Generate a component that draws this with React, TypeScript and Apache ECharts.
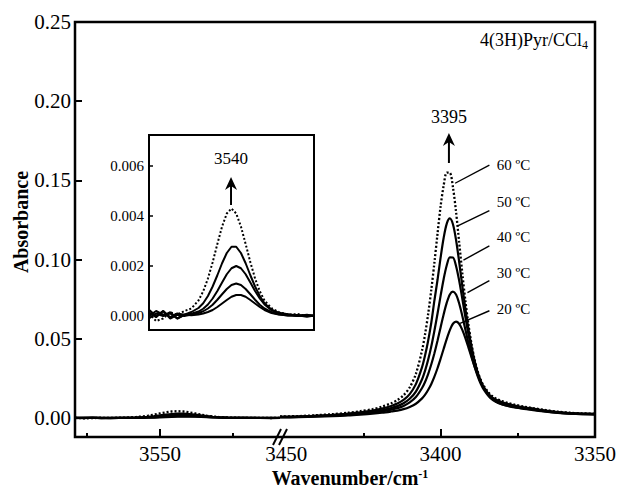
import React, { useEffect, useRef } from "react";
import * as echarts from "echarts";

// ---------------- data ----------------
// left segment of the broken axis (also shown enlarged in the inset)
const xLeft = [3579, 3576, 3573, 3570, 3567, 3564, 3561, 3558, 3556, 3554, 3552, 3550, 3548, 3546, 3544, 3542, 3540, 3538, 3536, 3534, 3532, 3530, 3527, 3524, 3520, 3516, 3512, 3509];
const a60L = [0.0001, -0.0002, -0.0001, 0.00015, 0.00005, 0.0002, 0.0003, 0.00062, 0.00099, 0.0015, 0.00215, 0.00288, 0.00358, 0.0041, 0.0043, 0.0041, 0.00358, 0.00288, 0.00215, 0.0015, 0.00099, 0.00062, 0.00031, 0.00016, 0.00005, 0.00008, 0.0, 0.00004];
const a50L = [0.00025, 0.0, 0.0002, -0.00005, 0.0001, 0.00005, 0.00016, 0.00032, 0.00051, 0.0008, 0.00118, 0.00163, 0.00211, 0.00252, 0.00277, 0.00277, 0.00252, 0.00211, 0.00163, 0.00118, 0.0008, 0.00051, 0.00025, 0.00013, 0.00007, 0.0, 0.00005, 0.0];
const a40L = [0.0, 0.0002, 0.00005, 0.0001, -0.0001, 0.00005, 0.00009, 0.00018, 0.00029, 0.00046, 0.0007, 0.001, 0.00134, 0.00167, 0.00191, 0.002, 0.00191, 0.00167, 0.00134, 0.001, 0.0007, 0.00046, 0.00023, 0.00011, 0.00006, 0.00003, -0.00003, 0.00002];
const a30L = [0.00015, -0.00005, 0.0002, -0.0001, 0.00005, 0.0, 0.00006, 0.00012, 0.00019, 0.0003, 0.00045, 0.00065, 0.00087, 0.00108, 0.00124, 0.0013, 0.00124, 0.00108, 0.00087, 0.00065, 0.00045, 0.0003, 0.00015, 0.00007, 0.00002, 0.00004, 0.0, 0.00003];
const a20L = [-0.0001, 0.0001, 0.0, 0.00015, -0.0001, 0.00005, 0.00003, 0.00006, 0.0001, 0.00016, 0.00024, 0.00036, 0.0005, 0.00064, 0.00077, 0.00084, 0.00084, 0.00077, 0.00064, 0.0005, 0.00036, 0.00024, 0.00012, 0.00006, 0.00002, 0.0, 0.00003, 0.0];

// right segment of the broken axis (main 3395 band)
const xRight = [3452, 3446, 3440, 3435, 3430, 3426, 3422, 3419, 3416, 3414, 3412, 3410, 3408, 3406, 3405, 3404, 3403, 3402, 3401, 3400, 3399, 3398, 3397, 3396, 3395, 3394, 3393, 3392, 3391, 3390, 3389, 3388, 3387, 3386, 3384, 3382, 3380, 3378, 3376, 3373, 3370, 3366, 3362, 3358, 3354, 3350];
const a60R = [0.0010, 0.0012, 0.0018, 0.0024, 0.0033, 0.0043, 0.0056, 0.0071, 0.0093, 0.0113, 0.0143, 0.0193, 0.0279, 0.0427, 0.0532, 0.0660, 0.0811, 0.0981, 0.1162, 0.1336, 0.1468, 0.1549, 0.1548, 0.1457, 0.1303, 0.1113, 0.0921, 0.0745, 0.0593, 0.0469, 0.0370, 0.0296, 0.0241, 0.0202, 0.0150, 0.0122, 0.0106, 0.0094, 0.0084, 0.0072, 0.0062, 0.0050, 0.0040, 0.0033, 0.0029, 0.0027];
const a50R = [0.0008, 0.0010, 0.0015, 0.0020, 0.0028, 0.0036, 0.0047, 0.0059, 0.0076, 0.0091, 0.0114, 0.0151, 0.0214, 0.0321, 0.0397, 0.0491, 0.0603, 0.0742, 0.0871, 0.1012, 0.1138, 0.1227, 0.1260, 0.1223, 0.1125, 0.0988, 0.0838, 0.0695, 0.0564, 0.0453, 0.0361, 0.0289, 0.0234, 0.0194, 0.0142, 0.0115, 0.0099, 0.0088, 0.0079, 0.0068, 0.0059, 0.0047, 0.0037, 0.0031, 0.0028, 0.0026];
const a40R = [0.0007, 0.0008, 0.0013, 0.0017, 0.0024, 0.0030, 0.0040, 0.0049, 0.0063, 0.0075, 0.0093, 0.0121, 0.0167, 0.0245, 0.0301, 0.0370, 0.0453, 0.0551, 0.0658, 0.0771, 0.0878, 0.0964, 0.1014, 0.1013, 0.0960, 0.0869, 0.0757, 0.0640, 0.0530, 0.0433, 0.0350, 0.0283, 0.0229, 0.0190, 0.0137, 0.0109, 0.0093, 0.0083, 0.0075, 0.0064, 0.0056, 0.0045, 0.0035, 0.0029, 0.0026, 0.0025];
const a30R = [0.0005, 0.0007, 0.0011, 0.0015, 0.0020, 0.0026, 0.0034, 0.0042, 0.0053, 0.0062, 0.0076, 0.0098, 0.0132, 0.0189, 0.0229, 0.0279, 0.0339, 0.0409, 0.0488, 0.0572, 0.0655, 0.0728, 0.0780, 0.0798, 0.0779, 0.0724, 0.0647, 0.0560, 0.0474, 0.0394, 0.0324, 0.0265, 0.0216, 0.0179, 0.0128, 0.0101, 0.0086, 0.0076, 0.0069, 0.0060, 0.0052, 0.0042, 0.0033, 0.0028, 0.0025, 0.0023];
const a20R = [0.0004, 0.0005, 0.0008, 0.0012, 0.0016, 0.0021, 0.0027, 0.0033, 0.0041, 0.0047, 0.0056, 0.0070, 0.0090, 0.0124, 0.0147, 0.0178, 0.0215, 0.0261, 0.0314, 0.0374, 0.0437, 0.0500, 0.0555, 0.0595, 0.0608, 0.0595, 0.0558, 0.0506, 0.0446, 0.0384, 0.0326, 0.0273, 0.0227, 0.0190, 0.0135, 0.0103, 0.0086, 0.0075, 0.0067, 0.0058, 0.0050, 0.0040, 0.0032, 0.0027, 0.0024, 0.0023];

const tempNames = ["60 ºC", "50 ºC", "40 ºC", "30 ºC", "20 ºC"];
const leftSets = [a60L, a50L, a40L, a30L, a20L];
const rightSets = [a60R, a50R, a40R, a30R, a20R];

// axes
const xRangeLeft = [3509, 3579];
const xRangeRight = [3350, 3452];
const yRange = [-0.012, 0.25];
const insetYRange = [-0.00056, 0.00724];
const yTickValues = [0, 0.05, 0.1, 0.15, 0.2, 0.25];
const insetTickValues = [0, 0.002, 0.004, 0.006];
const xLabelsLeft = [3550];
const xLabelsRight = [3450, 3400, 3350];
const xMajorLeft = [3550];
const xMinorLeft = [3575, 3525];
const xMajorRight = [3400];
const xMinorRight = [3425, 3375];

// annotations (data coordinates)
const peakMain = { label: "3395", x: 3397.3, labelY: 0.19, tailY: 0.161, tipY: 0.18 };
const peakInset = { label: "3540", x: 3544.2, labelY: 0.0063, tailY: 0.00444, tipY: 0.00556 };
const tempLabelX = 3381.8;
const tempLabelY = [0.16, 0.1365, 0.114, 0.0914, 0.0686];
const leaderStart = [[3384.2, 0.1597], [3384.2, 0.1309], [3384.2, 0.1086], [3384.2, 0.0867], [3384.2, 0.0677]];
const leaderEnd = [[3395.3, 0.1482], [3394.6, 0.1212], [3392.6, 0.0997], [3391.3, 0.0791], [3393.7, 0.0598]];

// ---------------- layout ----------------
const FONT = "'Liberation Serif', 'Times New Roman', serif";
const L = 75, T = 22, R = 595, B = 437, BX = 280;
const INSET = { left: 149, top: 135, right: 314, bottom: 330 };

export default function App() {
  const ref = useRef<HTMLDivElement>(null);
  useEffect(() => {
    if (!ref.current) return;
    const chart = echarts.init(ref.current, null, { renderer: "svg" });

    const tickStyle = { color: "#000", width: 2 };
    const labelStyle = { fontSize: 21, fontFamily: FONT, color: "#000" };
    const mkX = (grid: number, range: number[], ticks: number[], len: number, labels: number[] | null) => ({
      type: "value",
      gridIndex: grid,
      position: "bottom",
      min: range[0],
      max: range[1],
      inverse: true,
      axisLine: { show: false, onZero: false },
      splitLine: { show: false },
      axisTick: { show: true, inside: true, length: len, lineStyle: tickStyle, customValues: ticks },
      axisLabel: labels
        ? { show: true, customValues: labels, margin: 6, ...labelStyle, formatter: (v: number) => String(Math.round(v)) }
        : { show: false },
    });

    const series: any[] = [];
    tempNames.forEach((name, i) => {
      const ls = { color: "#000", width: i === 0 ? 2.3 : 2.2, type: i === 0 ? [2, 2] : "solid" };
      series.push({
        type: "line", name, xAxisIndex: 0, yAxisIndex: 0, showSymbol: false, smooth: false,
        data: xLeft.map((v, k) => [v, leftSets[i][k]]), lineStyle: ls, silent: true,
      });
      series.push({
        type: "line", name, xAxisIndex: 2, yAxisIndex: 1, showSymbol: false, smooth: 0.3,
        data: xRight.map((v, k) => [v, rightSets[i][k]]), lineStyle: ls, silent: true,
      });
      series.push({
        type: "line", name, xAxisIndex: 4, yAxisIndex: 2, showSymbol: false, smooth: false, z: 10,
        data: xLeft.map((v, k) => [v, leftSets[i][k]]), lineStyle: { ...ls, width: 2 }, silent: true,
      });
    });

    chart.setOption({
      animation: false,
      backgroundColor: "#fff",
      grid: [
        { left: L, top: T, width: BX - L, height: B - T },
        { left: BX, top: T, width: R - BX, height: B - T },
        {
          left: INSET.left, top: INSET.top, width: INSET.right - INSET.left, height: INSET.bottom - INSET.top,
          show: true, borderColor: "#000", borderWidth: 2, backgroundColor: "#fff",
        },
        { left: L, top: T, width: R - L, height: B - T, show: true, borderColor: "#000", borderWidth: 2.5, backgroundColor: "transparent" },
      ],
      xAxis: [
        mkX(0, xRangeLeft, xMajorLeft, 8, xLabelsLeft),
        mkX(0, xRangeLeft, xMinorLeft, 4, null),
        mkX(1, xRangeRight, xMajorRight, 8, xLabelsRight),
        mkX(1, xRangeRight, xMinorRight, 4, null),
        { type: "value", gridIndex: 2, min: xRangeLeft[0], max: xRangeLeft[1], inverse: true, show: false, axisLine: { onZero: false } },
        { type: "value", gridIndex: 3, min: 0, max: 1, show: false },
      ],
      yAxis: [
        {
          type: "value", gridIndex: 0, min: yRange[0], max: yRange[1],
          axisLine: { show: false, onZero: false }, splitLine: { show: false },
          axisTick: { show: true, inside: true, length: 7, lineStyle: tickStyle, customValues: yTickValues },
          axisLabel: { show: true, customValues: yTickValues, margin: 4, ...labelStyle, formatter: (v: number) => v.toFixed(2) },
        },
        { type: "value", gridIndex: 1, min: yRange[0], max: yRange[1], show: false, axisLine: { onZero: false } },
        {
          type: "value", gridIndex: 2, min: insetYRange[0], max: insetYRange[1],
          axisLine: { show: false, onZero: false }, splitLine: { show: false },
          axisTick: { show: true, inside: true, length: 4, lineStyle: { color: "#000", width: 1.5 }, customValues: insetTickValues },
          axisLabel: { show: true, customValues: insetTickValues, margin: 5, fontSize: 15, fontFamily: FONT, color: "#000", formatter: (v: number) => v.toFixed(3) },
        },
        { type: "value", gridIndex: 3, min: 0, max: 1, show: false },
      ],
      series,
    });

    const pMain = (pt: number[]) => chart.convertToPixel({ xAxisIndex: 2, yAxisIndex: 1 } as any, pt) as number[];
    const pInset = (pt: number[]) => chart.convertToPixel({ xAxisIndex: 4, yAxisIndex: 2 } as any, pt) as number[];

    const g: any[] = [];
    const arrow = (x: number, yTail: number, yTip: number) => {
      g.push({ type: "line", z: 100, shape: { x1: x, y1: yTail, x2: x, y2: yTip + 8 }, style: { stroke: "#000", lineWidth: 2 } });
      g.push({
        type: "polygon", z: 100,
        shape: { points: [[x, yTip], [x + 6, yTip + 13], [x, yTip + 9], [x - 6, yTip + 13]] },
        style: { fill: "#000" },
      });
    };
    const txt = (x: number, y: number, text: string, size: number, align = "center") => {
      g.push({
        type: "text", z: 100, x, y,
        style: { text, fontSize: size, fontFamily: FONT, fill: "#000", align, verticalAlign: "middle" },
      });
    };

    // main peak annotation
    {
      const lab = pMain([peakMain.x, peakMain.labelY]);
      const tail = pMain([peakMain.x, peakMain.tailY]);
      const tip = pMain([peakMain.x, peakMain.tipY]);
      txt(lab[0], lab[1], peakMain.label, 18);
      arrow(tail[0], tail[1], tip[1]);
    }
    // inset peak annotation
    {
      const lab = pInset([peakInset.x, peakInset.labelY]);
      const tail = pInset([peakInset.x, peakInset.tailY]);
      const tip = pInset([peakInset.x, peakInset.tipY]);
      txt(lab[0], lab[1], peakInset.label, 17);
      arrow(tail[0], tail[1], tip[1]);
    }
    // temperature labels with leader lines
    tempNames.forEach((name, i) => {
      const p = pMain([tempLabelX, tempLabelY[i]]);
      txt(p[0], p[1], name, 15, "left");
      const s = pMain(leaderStart[i]);
      const e = pMain(leaderEnd[i]);
      g.push({ type: "line", z: 100, shape: { x1: s[0], y1: s[1], x2: e[0], y2: e[1] }, style: { stroke: "#000", lineWidth: 1.4 } });
    });
    // axis break marks
    g.push({ type: "line", z: 100, shape: { x1: BX - 7, y1: B + 8, x2: BX + 1, y2: B - 8 }, style: { stroke: "#000", lineWidth: 2 } });
    g.push({ type: "line", z: 100, shape: { x1: BX - 1, y1: B + 8, x2: BX + 7, y2: B - 8 }, style: { stroke: "#000", lineWidth: 2 } });
    // title
    g.push({
      type: "text", z: 100, x: 588, y: 40,
      style: {
        text: "{m|4(3H)Pyr/CCl}{s|4}",
        align: "right", verticalAlign: "middle",
        rich: {
          m: { fontSize: 18, fontFamily: FONT, fill: "#000", lineHeight: 22 },
          s: { fontSize: 12, fontFamily: FONT, fill: "#000", lineHeight: 12, verticalAlign: "bottom" },
        },
      },
    });
    // axis names
    g.push({
      type: "text", z: 100, x: 350, y: 478,
      style: {
        text: "{m|Wavenumber/cm}{s|-1}",
        align: "center", verticalAlign: "middle",
        rich: {
          m: { fontSize: 20, fontWeight: "bold", fontFamily: FONT, fill: "#000", lineHeight: 20 },
          s: { fontSize: 12, fontWeight: "bold", fontFamily: FONT, fill: "#000", lineHeight: 12, verticalAlign: "top" },
        },
      },
    });
    g.push({
      type: "text", z: 100, x: 21, y: 222, rotation: Math.PI / 2,
      style: { text: "Absorbance", fontSize: 20, fontWeight: "bold", fontFamily: FONT, fill: "#000", align: "center", verticalAlign: "middle" },
    });

    chart.setOption({ graphic: g });

    return () => chart.dispose();
  }, []);

  return (
    <div
      ref={ref}
      style={{ position: "fixed", left: 0, top: 0, width: 624, height: 488, background: "#fff" }}
    />
  );
}
